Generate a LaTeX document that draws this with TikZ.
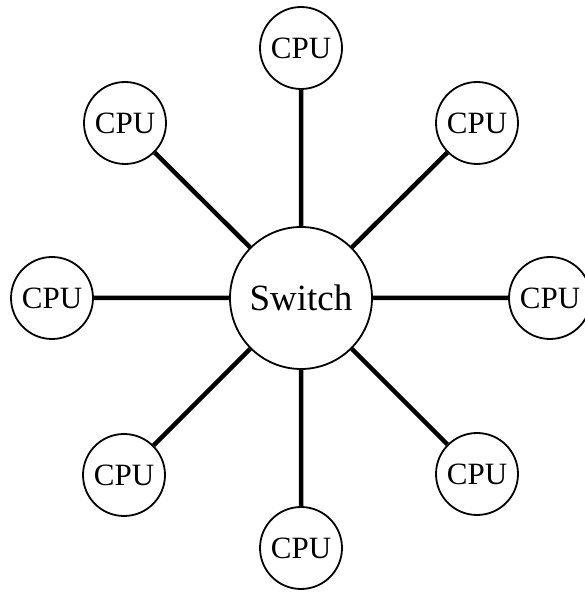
\documentclass[tikz,border=0pt]{standalone}
\usepackage{fontspec}
\setmainfont{Liberation Serif}
\usetikzlibrary{positioning}
\tikzset{
every node/.style={circle, draw, line width=1.8pt, inner sep=0pt}, % all nodes are outlined circles
cpu/.style={minimum size=82pt, font=\fontsize{31}{31}\selectfont}, % the small processor circles
switch/.style={minimum size=142pt, font=\fontsize{37}{37}\selectfont}, % the big circle in the middle
link/.style={line width=4.5pt}, % the thick spokes
}
\begin{document}
\begin{tikzpicture}[on grid]
    \useasboundingbox (0,0) rectangle (585pt,592pt);
    \node[switch] (sw) at (301pt,294pt) {Switch};
    \node[cpu, above=250pt of sw] (n) {CPU};
    \node[cpu, below=250pt of sw] (s) {CPU};
    \node[cpu, left=249pt of sw] (w) {CPU};
    \node[cpu, right=249pt of sw] (e) {CPU};
    \node[cpu, above left=175pt and 176pt of sw] (nw) {CPU};
    \node[cpu, above right=175pt and 176pt of sw] (ne) {CPU};
    \node[cpu, below left=177pt and 177pt of sw] (sw1) {CPU};
    \node[cpu, below right=176pt and 176pt of sw] (se) {CPU};
    \draw[link]
    (sw) -- (n)
    (sw) -- (s)
    (sw) -- (w)
    (sw) -- (e)
    (sw) -- (nw)
    (sw) -- (ne)
    (sw) -- (sw1)
    (sw) -- (se);
\end{tikzpicture}
\end{document}
